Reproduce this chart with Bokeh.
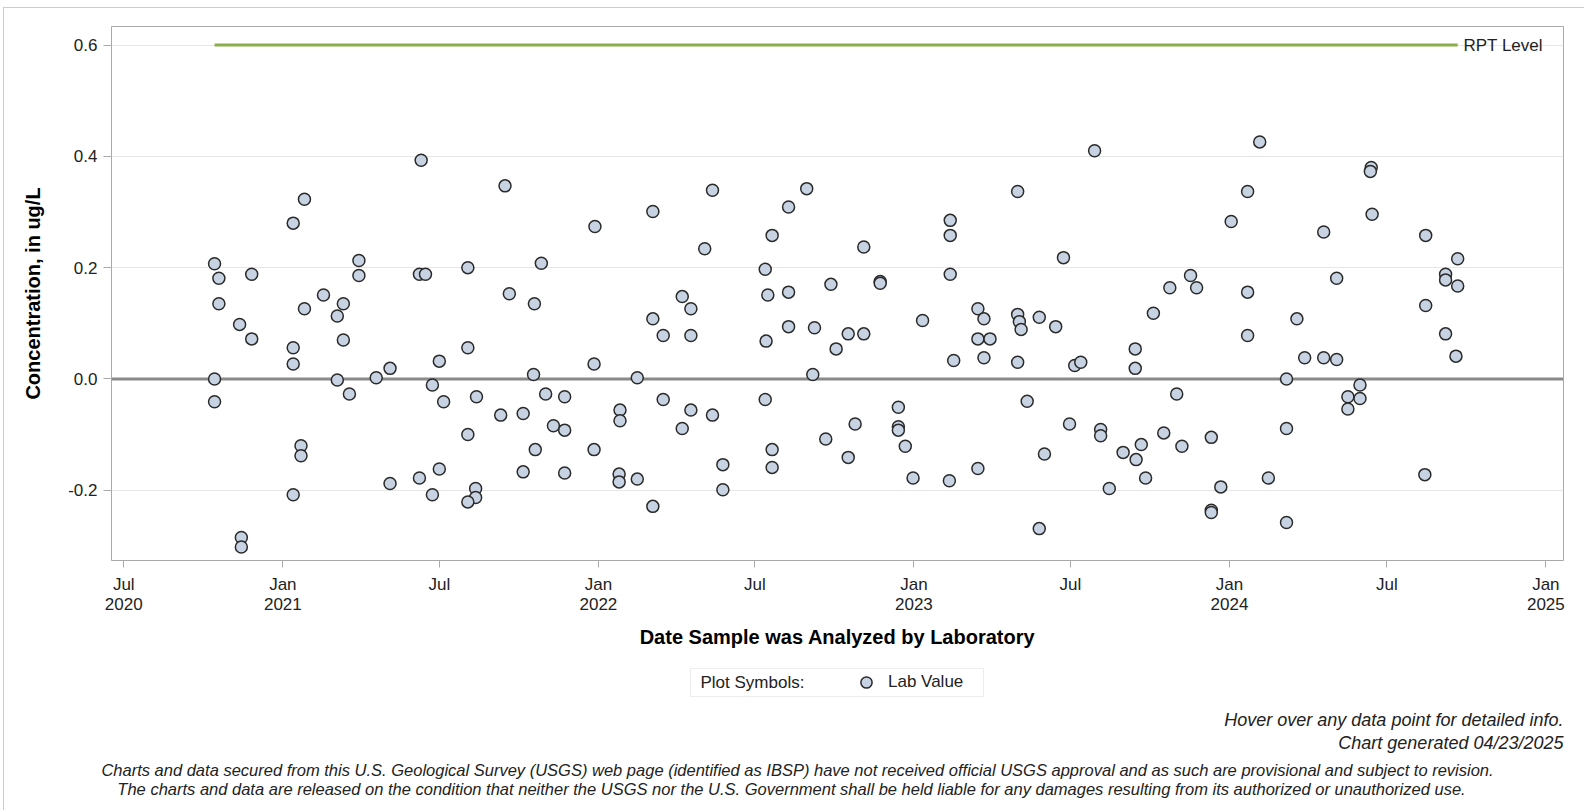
import pandas as pd
from bokeh.plotting import figure
from bokeh.layouts import column
from bokeh.models import (FixedTicker, PrintfTickFormatter, Span, Label, Legend, LegendItem,
                          ColumnDataSource, Range1d, BoxAnnotation, Plot)
from bokeh.embed import file_html
from bokeh.resources import INLINE

# ---------------- data ----------------
dates = [
    "2020-10-14", "2020-10-19", "2020-10-19", "2020-10-14", "2020-10-14", "2020-11-26", "2020-11-12", "2020-11-26",
    "2020-11-14", "2020-11-14", "2021-01-26", "2021-01-13", "2021-01-26", "2021-01-13", "2021-01-13", "2021-01-22",
    "2021-01-22", "2021-01-13", "2021-02-17", "2021-03-12", "2021-03-05", "2021-03-12", "2021-03-30", "2021-03-30",
    "2021-03-05", "2021-03-19", "2021-04-19", "2021-05-05", "2021-05-05", "2021-06-10", "2021-06-08", "2021-06-15",
    "2021-07-01", "2021-06-23", "2021-07-06", "2021-06-08", "2021-06-23", "2021-07-01", "2021-08-03", "2021-08-03",
    "2021-08-03", "2021-08-13", "2021-08-12", "2021-08-12", "2021-08-03", "2021-09-15", "2021-09-20", "2021-09-10",
    "2021-10-06", "2021-10-06", "2021-10-27", "2021-10-19", "2021-10-18", "2021-11-01", "2021-11-23", "2021-11-10",
    "2021-11-23", "2021-10-20", "2021-11-23", "2021-12-28", "2021-12-27", "2021-12-27", "2022-01-26", "2022-01-26",
    "2022-01-25", "2022-01-25", "2022-02-15", "2022-02-15", "2022-03-05", "2022-03-05", "2022-03-17", "2022-03-17",
    "2022-03-05", "2022-04-08", "2022-04-18", "2022-04-18", "2022-04-18", "2022-04-08", "2022-05-04", "2022-05-13",
    "2022-05-13", "2022-05-25", "2022-05-25", "2022-07-13", "2022-07-16", "2022-07-14", "2022-07-13", "2022-07-21",
    "2022-07-21", "2022-07-21", "2022-08-09", "2022-08-09", "2022-08-09", "2022-08-30", "2022-09-08", "2022-09-06",
    "2022-09-27", "2022-10-03", "2022-09-21", "2022-10-17", "2022-10-17", "2022-11-04", "2022-11-04", "2022-10-25",
    "2022-11-23", "2022-11-23", "2022-12-14", "2022-12-14", "2022-12-14", "2022-12-22", "2022-12-31", "2023-01-11",
    "2023-02-12", "2023-02-12", "2023-02-12", "2023-02-16", "2023-02-11", "2023-03-16", "2023-03-23", "2023-03-16",
    "2023-03-30", "2023-03-23", "2023-03-16", "2023-05-01", "2023-05-01", "2023-05-03", "2023-05-05", "2023-05-01",
    "2023-05-12", "2023-05-26", "2023-05-26", "2023-06-01", "2023-06-14", "2023-06-23", "2023-06-30", "2023-07-06",
    "2023-07-13", "2023-07-29", "2023-08-05", "2023-08-05", "2023-08-15", "2023-08-31", "2023-09-14", "2023-09-14",
    "2023-09-21", "2023-09-15", "2023-09-26", "2023-10-05", "2023-10-24", "2023-10-17", "2023-11-17", "2023-11-24",
    "2023-11-01", "2023-11-07", "2023-12-11", "2023-12-22", "2023-12-11", "2023-12-11", "2024-02-05", "2024-01-22",
    "2024-01-03", "2024-01-22", "2024-01-22", "2024-02-15", "2024-03-07", "2024-03-07", "2024-03-07", "2024-03-19",
    "2024-03-28", "2024-04-19", "2024-05-04", "2024-04-19", "2024-05-04", "2024-05-31", "2024-05-17", "2024-05-31",
    "2024-05-17", "2024-06-13", "2024-06-12", "2024-06-14", "2024-08-15", "2024-08-15", "2024-08-14", "2024-09-07",
    "2024-09-07", "2024-09-21", "2024-09-21", "2024-09-07", "2024-09-19",
]
values = [
    0.207, 0.181, 0.135, 0.000, -0.041, 0.188, 0.098, 0.072,
    -0.285, -0.302, 0.323, 0.280, 0.126, 0.056, 0.027, -0.120,
    -0.138, -0.208, 0.151, 0.135, 0.113, 0.070, 0.213, 0.186,
    -0.002, -0.027, 0.002, 0.019, -0.188, 0.393, 0.188, 0.188,
    0.032, -0.011, -0.041, -0.178, -0.208, -0.162, 0.200, 0.056,
    -0.100, -0.032, -0.197, -0.213, -0.221, 0.347, 0.153, -0.065,
    -0.062, -0.167, 0.208, 0.135, 0.008, -0.027, -0.032, -0.084,
    -0.092, -0.127, -0.169, 0.274, 0.027, -0.127, -0.056, -0.075,
    -0.171, -0.185, -0.180, 0.002, 0.301, 0.108, 0.078, -0.037,
    -0.229, 0.148, 0.126, 0.078, -0.056, -0.089, 0.234, 0.339,
    -0.065, -0.154, -0.199, 0.197, 0.151, 0.068, -0.037, 0.258,
    -0.127, -0.159, 0.309, 0.156, 0.094, 0.342, 0.092, 0.008,
    0.170, 0.054, -0.108, 0.081, -0.141, 0.081, 0.237, -0.081,
    0.175, 0.172, -0.051, -0.086, -0.092, -0.121, -0.178, 0.105,
    0.285, 0.258, 0.188, 0.033, -0.183, 0.126, 0.108, 0.072,
    0.072, 0.038, -0.161, 0.337, 0.116, 0.103, 0.089, 0.030,
    -0.040, 0.111, -0.269, -0.135, 0.094, 0.218, -0.081, 0.024,
    0.030, 0.410, -0.091, -0.102, -0.197, -0.132, 0.054, 0.019,
    -0.118, -0.145, -0.178, 0.118, 0.164, -0.097, 0.186, 0.164,
    -0.027, -0.121, -0.105, -0.194, -0.236, -0.240, 0.426, 0.337,
    0.283, 0.156, 0.078, -0.178, 0.000, -0.089, -0.258, 0.108,
    0.038, 0.038, 0.035, 0.264, 0.181, -0.011, -0.032, -0.035,
    -0.054, 0.380, 0.373, 0.296, 0.258, 0.132, -0.172, 0.188,
    0.178, 0.216, 0.167, 0.081, 0.041,
]
series_name = "Lab Value"
rpt_level = 0.6
rpt_label = "RPT Level"
x_tick_dates = ["2020-07-01", "2021-01-01", "2021-07-01", "2022-01-01", "2022-07-01",
                "2023-01-01", "2023-07-01", "2024-01-01", "2024-07-01", "2025-01-01"]
x_tick_labels = ["Jul\n2020", "Jan\n2021", "Jul", "Jan\n2022", "Jul",
                 "Jan\n2023", "Jul", "Jan\n2024", "Jul", "Jan\n2025"]
y_ticks = [-0.2, 0.0, 0.2, 0.4, 0.6]
x_title = "Date Sample was Analyzed by Laboratory"
y_title = "Concentration, in ug/L"
legend_title = "Plot Symbols:"
note_hover = "Hover over any data point for detailed info."
note_generated = "Chart generated 04/23/2025"
disclaimer_1 = ("Charts and data secured from this U.S. Geological Survey (USGS) web page (identified as IBSP) "
                "have not received official USGS approval and as such are provisional and subject to revision.")
disclaimer_2 = ("The charts and data are released on the condition that neither the USGS nor the U.S. Government "
                "shall be held liable for any damages resulting from its authorized or unauthorized use.")

# ---------------- layout ----------------
FONT = "Liberation Sans"
TXT = "#222222"
MARK_FILL, MARK_LINE = "#c7d3e3", "#2a2a2a"
W = 1584
H1 = 656                      # chart figure height
BL, BR, BT = 111, 21, 26
FH = 534
BB = H1 - BT - FH
H2 = 154                      # footer figure height (page y 656..810)
TOP2 = H1
HAS_FRAME_ALIGN = "frame_align" in Plot.properties()

ref = pd.Timestamp("2020-07-01")
x0 = ref - pd.Timedelta(days=14.2)
x1 = ref + pd.Timedelta(days=1665.4)
y0, y1 = -0.3263, 0.6334


def ms(ts):
    return pd.Timestamp(ts).value / 1e6


p = figure(width=W, height=H1, x_axis_type="datetime",
           x_range=(x0, x1), y_range=(y0, y1),
           output_backend="svg", toolbar_location=None,
           min_border_left=BL, min_border_right=BR, min_border_top=BT, min_border_bottom=BB,
           background_fill_color="white", border_fill_color="white", border_fill_alpha=0.0)
p.outline_line_color = "#a9a9a9"
p.outline_line_width = 1

tick_ms = [ms(d) for d in x_tick_dates]
p.xaxis.ticker = FixedTicker(ticks=tick_ms)
p.xaxis.major_label_overrides = {t: lab for t, lab in zip(tick_ms, x_tick_labels)}
p.yaxis.ticker = FixedTicker(ticks=y_ticks)
p.yaxis.formatter = PrintfTickFormatter(format="%.1f")
for ax in (p.xaxis[0], p.yaxis[0]):
    ax.axis_line_color = None
    ax.major_tick_line_color = "#a9a9a9"
    ax.minor_tick_line_color = None
    ax.major_tick_in = 0
    ax.major_label_text_font = FONT
    ax.major_label_text_font_size = "17px"
    ax.major_label_text_color = TXT
    ax.axis_label_text_font = FONT
    ax.axis_label_text_font_size = "20px"
    ax.axis_label_text_font_style = "bold"
    ax.axis_label_text_color = "#000000"
p.xaxis.major_tick_out = 7
p.yaxis.major_tick_out = 8
p.xaxis.major_label_standoff = 7
p.xaxis.major_label_text_line_height = 1.09
p.yaxis.major_label_standoff = 6
p.xaxis.axis_label = x_title
p.yaxis.axis_label = y_title
p.xaxis.axis_label_standoff = 9
p.yaxis.axis_label_standoff = 21

p.xgrid.visible = False
p.ygrid.grid_line_color = "#e6e6e6"
p.ygrid.grid_line_width = 1

p.add_layout(Span(location=0, dimension="width", line_color="#8a8a8a", line_width=3, level="underlay"))

dt = pd.to_datetime(dates)
p.line(x=[dt.min(), dt.max()], y=[rpt_level, rpt_level], line_color="#8cae4c", line_width=3)
rpt_x = ms(x0) + (ms(x1) - ms(x0)) * (1463 - BL) / (W - BL - BR)
p.add_layout(Label(x=rpt_x, y=rpt_level, text=rpt_label, text_align="left", text_baseline="middle",
                   text_font=FONT, text_font_size="17px", text_color=TXT))

src = ColumnDataSource(dict(date=dt, value=values))
r = p.scatter(x="date", y="value", source=src, marker="circle", size=12,
              fill_color=MARK_FILL, line_color=MARK_LINE, line_width=1.5)

# ---------------- footer (legend + notes), in page-pixel coordinates ----------------
if HAS_FRAME_ALIGN:
    FX0, FX1 = 0, W
else:
    FX0, FX1 = BL, W - BR
pf = figure(width=W, height=H2, x_range=Range1d(FX0, FX1), y_range=Range1d(H2, 0),
            output_backend="svg", toolbar_location=None,
            x_axis_location=None, y_axis_location=None,
            min_border=0, min_border_left=FX0, min_border_right=W - FX1,
            min_border_top=0, min_border_bottom=0,
            outline_line_color=None, background_fill_color="white", background_fill_alpha=0.0,
            border_fill_color="white", border_fill_alpha=0.0)
if HAS_FRAME_ALIGN:
    p.frame_align = False
    pf.frame_align = False
pf.xgrid.visible = False
pf.ygrid.visible = False

pf.add_layout(BoxAnnotation(left=690, right=983, top=668 - TOP2, bottom=696 - TOP2,
                            fill_color="white", fill_alpha=1.0, line_color="#c4c4c4", line_width=1,
                            level="underlay"))
pf.add_layout(Label(x=700, y=682 - TOP2, text=legend_title, text_align="left", text_baseline="middle",
                    text_font=FONT, text_font_size="17px", text_color=TXT))
# legend key glyph (one undrawn NaN point so the legend renders its swatch)
key = pf.scatter(x=[float("nan")], y=[float("nan")], marker="circle", size=12,
                 fill_color=MARK_FILL, line_color=MARK_LINE, line_width=1.5)
legend = Legend(items=[LegendItem(label=series_name, renderers=[key])],
                location=(852 - FX0, H2 - (696 - TOP2)), orientation="horizontal",
                border_line_color=None, background_fill_alpha=0.0, padding=0, margin=0,
                glyph_width=28, glyph_height=28, label_height=28, label_standoff=8,
                label_text_font=FONT, label_text_font_size="17px", label_text_color=TXT)
pf.add_layout(legend, "center")


def note(text, sx, sy, align, size):
    pf.add_layout(Label(x=sx, y=sy - TOP2, text=text, text_align=align, text_baseline="middle",
                        text_font=FONT, text_font_size=size, text_font_style="italic", text_color=TXT))


note(note_hover, 1563, 719, "right", "18px")
note(note_generated, 1563, 742, "right", "18px")
note(disclaimer_1, 797 if HAS_FRAME_ALIGN else 808, 769, "center", "16.5px")
note(disclaimer_2, 791, 788, "center", "16.5px")

# thin outer frame of the whole chart (left and top edges, as in the page)
layout = column(p, pf, spacing=0,
                styles={"background-color": "#ffffff",
                        "box-shadow": "inset 3px 7px 0 0 #ffffff, inset 4px 8px 0 0 #cccccc"})
open("out.html", "w").write(file_html(layout, INLINE))
